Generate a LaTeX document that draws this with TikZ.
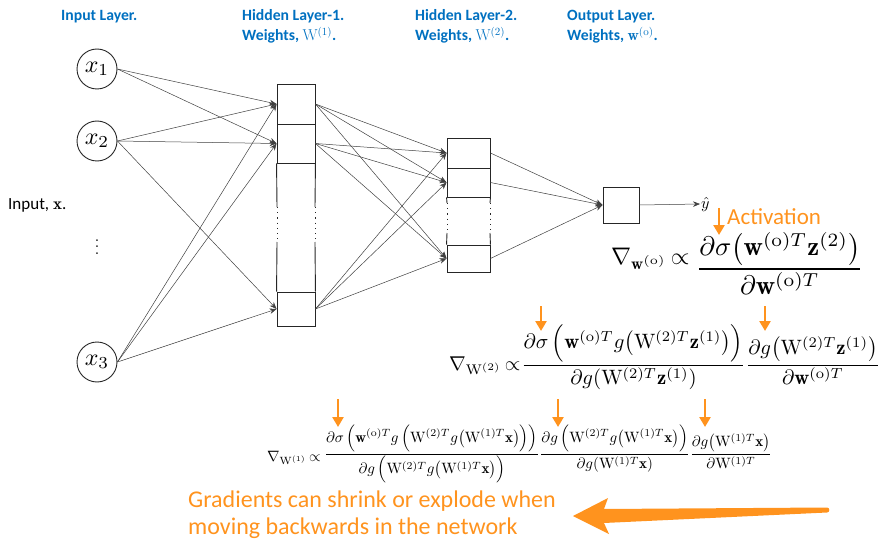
\documentclass[tikz,border=0pt]{standalone}
\usepackage{amsmath}
\usepackage{graphicx}
\usepackage{fontspec}
\newfontfamily\carl{Carlito}
\usetikzlibrary{arrows.meta}
\definecolor{layerblue}{HTML}{0070C0}
\definecolor{gradorange}{HTML}{FF931E}

\begin{document}
\begin{tikzpicture}[x=1pt,y=-1pt,
  neuron/.style={circle,draw=black!85,line width=0.9pt,minimum size=40pt,inner sep=0pt},
  cell/.style={draw=black!85,line width=0.9pt,inner sep=0pt},
  boxside/.style={draw=black!85,line width=0.9pt},
  boxgap/.style={draw=black!85,line width=0.9pt,dash pattern=on 1.2pt off 4pt},
  conn/.style={draw=black!75,line width=0.5pt,-{Stealth[length=7pt,width=5.5pt]}},
  layerlbl/.style={anchor=base west,inner sep=0pt,text=layerblue,
                   font=\carl\bfseries\fontsize{15.7}{19}\selectfont},
  pointer/.style={draw=gradorange,line width=2.7pt,-{Triangle[length=10pt,width=11pt]}},
  note/.style={anchor=base west,inner sep=0pt,text=gradorange,
               font=\carl\fontsize{24}{29}\selectfont},
  eq/.style={anchor=base west,inner sep=0pt},
]
\useasboundingbox (0,0) rectangle (883,540);

% layer titles
\node[layerlbl] (lin)  at (61,21)  {Input Layer.};
\node[layerlbl] (lh1a) at (242,21) {Hidden Layer-1.};
\node[layerlbl] (lh1b) at (242,41) {Weights, $\mathrm{W}^{(1)}$.};
\node[layerlbl] (lh2a) at (415,21) {Hidden Layer-2.};
\node[layerlbl] (lh2b) at (415,41) {Weights, $\mathrm{W}^{(2)}$.};
\node[layerlbl] (loa)  at (567,21) {Output Layer.};
\node[layerlbl] (lob)  at (567,41) {Weights, $\mathbf{w}^{(\mathrm{o})}$.};

% input neurons
\node[neuron] (x1) at (97,69)  {\scalebox{2.4}{$x_1$}};
\node[neuron] (x2) at (97,141) {\scalebox{2.4}{$x_2$}};
\node[neuron] (x3) at (97,362) {\scalebox{2.4}{$x_3$}};
\node[scale=1.6] (vd) at (97,242) {$\vdots$};
\node[eq,font=\carl\fontsize{17}{20}\selectfont] (inlbl) at (8,210) {Input, $\mathbf{x}$.};

% hidden layer 1
\node[cell,minimum width=38pt,minimum height=40pt] (h11) at (296,104) {};
\node[cell,minimum width=38pt,minimum height=39pt] (h12) at (296,143.5) {};
\node[cell,minimum width=38pt,minimum height=34pt] (h1n) at (296,309) {};
\draw[boxside] (h12.south west) -- (277,207) (277,242) -- (h1n.north west);
\draw[boxside] (h12.south east) -- (315,207) (315,242) -- (h1n.north east);
\draw[boxgap] (277,207) -- (277,242) (315,207) -- (315,242);

% hidden layer 2
\node[cell,minimum width=43pt,minimum height=30pt] (h21) at (468.5,153) {};
\node[cell,minimum width=43pt,minimum height=29pt] (h22) at (468.5,182.5) {};
\node[cell,minimum width=43pt,minimum height=27pt] (h2n) at (468.5,258.5) {};
\draw[boxside] (h22.south west) -- (447,203) (447,233) -- (h2n.north west);
\draw[boxside] (h22.south east) -- (490,203) (490,233) -- (h2n.north east);
\draw[boxgap] (447,203) -- (447,233) (490,203) -- (490,233);

% output unit
\node[cell,minimum size=36pt] (out) at (621,205) {};
\node[anchor=west,inner sep=1pt] (yh) at (700,204) {\scalebox{1.6}{$\hat{y}$}};

% weights
\foreach \t in {h11,h12} \draw[conn] (x1.east) -- (\t.west);
\foreach \s in {x2,x3} \foreach \t in {h11,h12,h1n} \draw[conn] (\s.east) -- (\t.west);
\foreach \s in {h11,h12,h1n} \foreach \t in {h21,h22,h2n} \draw[conn] (\s.east) -- (\t.west);
\foreach \s in {h21,h22,h2n} \draw[conn] (\s.east) -- (out.west);
\draw[conn] (out.east) -- (yh.west);

% gradient of the output weights
\node[eq,text=gradorange,font=\carl\fontsize{23}{28}\selectfont] (act) at (727,225) {Activation};
\coordinate (p1s) at (719,208); \coordinate (p1e) at (719,235);
\draw[pointer] (p1s) -- (p1e);
\node[eq] (g1pre) at (611,264) {\scalebox{2.4}{$\nabla_{\mathbf{w}^{(\mathrm{o})}}\mkern3mu{\propto}$}};
\node[eq] (g1frac) at (696,275.7)
  {\scalebox{2.68}{$\displaystyle\frac{\partial\sigma\big(\mathbf{w}^{(\mathrm{o})T}\mathbf{z}^{(2)}\big)}{\partial\mathbf{w}^{(\mathrm{o})T}}$}};

% gradient of the second hidden layer
\coordinate (p2s) at (541,306); \coordinate (p2e) at (541,331);
\coordinate (p3s) at (765,306); \coordinate (p3e) at (765,331);
\draw[pointer] (p2s) -- (p2e);
\draw[pointer] (p3s) -- (p3e);
\node[eq] (g2pre) at (449,370) {\scalebox{2.0}{$\nabla_{\mathrm{W}^{(2)}}\mkern3mu{\propto}$}};
\node[eq] (g2frac) at (521,370.2)
  {\scalebox{2.08}{$\displaystyle\frac{\partial\sigma\,\Big(\mathbf{w}^{(\mathrm{o})T}g\big(\mathrm{W}^{(2)T}\mathbf{z}^{(1)}\big)\Big)}{\partial g(\mathrm{W}^{(2)T}\mathbf{z}^{(1)})}
    \frac{\partial g\big(\mathrm{W}^{(2)T}\mathbf{z}^{(1)}\big)}{\partial\mathbf{w}^{(\mathrm{o})T}}$}};

% gradient of the first hidden layer
\coordinate (p4s) at (338,399); \coordinate (p4e) at (338,427);
\coordinate (p5s) at (558,399); \coordinate (p5e) at (558,427);
\coordinate (p6s) at (705,399); \coordinate (p6e) at (705,427);
\draw[pointer] (p4s) -- (p4e);
\draw[pointer] (p5s) -- (p5e);
\draw[pointer] (p6s) -- (p6e);
\node[eq] (g3pre) at (267,461) {\scalebox{1.5}{$\nabla_{\mathrm{W}^{(1)}}\mkern3mu{\propto}$}};
\node[eq] (g3frac) at (324,457.8)
  {\scalebox{1.5}{$\displaystyle\frac{\partial\sigma\,\Big(\mathbf{w}^{(\mathrm{o})T}g\,\Big(\mathrm{W}^{(2)T}g\big(\mathrm{W}^{(1)T}\mathbf{x}\big)\Big)\Big)}{\partial g\,\Big(\mathrm{W}^{(2)T}g\big(\mathrm{W}^{(1)T}\mathbf{x}\big)\Big)}
    \frac{\partial g\,\Big(\mathrm{W}^{(2)T}g\big(\mathrm{W}^{(1)T}\mathbf{x}\big)\Big)}{\partial g(\mathrm{W}^{(1)T}\mathbf{x})}
    \frac{\partial g\big(\mathrm{W}^{(1)T}\mathbf{x}\big)}{\partial\mathrm{W}^{(1)T}}$}};

% backward note with its tapered arrow
\node[note] (n1) at (188,507) {Gradients can shrink or explode when};
\node[note] (n2) at (188,534) {moving backwards in the network};
\fill[gradorange] (573,516) -- (608,498) -- (604,509) -- (827,507.5)
  .. controls (830,507.5) and (830,512.5) .. (827,512.5)
  -- (604,523) -- (609,534) -- cycle;
\end{tikzpicture}
\end{document}
